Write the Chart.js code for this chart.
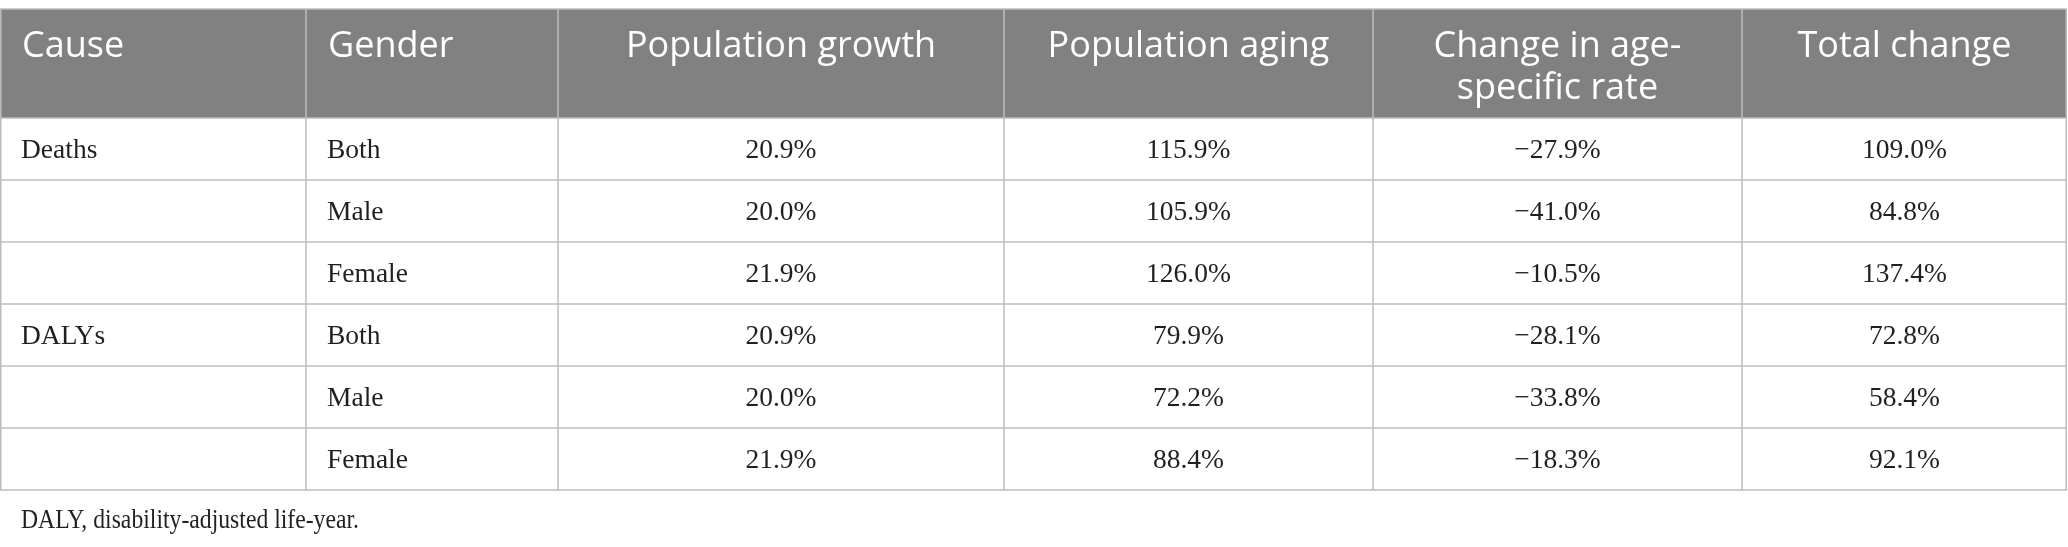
<!DOCTYPE html>
<html>
<head>
<meta charset="utf-8">
<script src="https://cdn.jsdelivr.net/npm/chart.js@4.4.1/dist/chart.umd.min.js"></script>
<style>
  html, body { margin: 0; padding: 0; background: #fff; }
  #wrap { width: 2068px; height: 547px; position: relative; }
</style>
</head>
<body>
<div id="wrap"><canvas id="table"></canvas></div>
<script>
// Table content
const headers = ['Cause', 'Gender', 'Population growth', 'Population aging', ['Change in age-', 'specific rate'], 'Total change'];
const causes = ['Deaths', '', '', 'DALYs', '', ''];
const genders = ['Both', 'Male', 'Female', 'Both', 'Male', 'Female'];
const popGrowth = [20.9, 20.0, 21.9, 20.9, 20.0, 21.9];
const popAging = [115.9, 105.9, 126.0, 79.9, 72.2, 88.4];
const rateChange = [-27.9, -41.0, -10.5, -28.1, -33.8, -18.3];
const totalChange = [109.0, 84.8, 137.4, 72.8, 58.4, 92.1];
const footnote = 'DALY, disability-adjusted life-year.';

// Layout (in scale units, 1 unit = 1 px of the picture)
const colEdges = [0, 306, 558, 1004, 1373, 1742, 2067];
const rowEdges = [9, 118, 180, 242, 304, 366, 428, 490];
const leftAligned = [true, true, false, false, false, false];
const footWidth = 338;

function pct(v) {
  return (v < 0 ? '\u2212' + Math.abs(v).toFixed(1) : v.toFixed(1)) + '%';
}

const rows = genders.map((g, i) => [
  causes[i], g, pct(popGrowth[i]), pct(popAging[i]), pct(rateChange[i]), pct(totalChange[i])
]);

// draws the table cells using the chart's x/y scales
const tablePlugin = {
  id: 'tableCells',
  afterDraw(chart) {
    const c = chart.ctx;
    const x = v => chart.scales.x.getPixelForValue(v);
    const y = v => chart.scales.y.getPixelForValue(v);
    const left = x(colEdges[0]), right = x(colEdges[colEdges.length - 1]);
    const top = y(rowEdges[0]), bottom = y(rowEdges[rowEdges.length - 1]);

    c.save();
    // header background
    c.fillStyle = '#808180';
    c.fillRect(left, top, right - left, y(rowEdges[1]) - top);

    // grid lines
    c.strokeStyle = '#bcbcbc';
    c.lineWidth = 1.5;
    rowEdges.forEach(r => {
      c.beginPath();
      c.moveTo(left, y(r));
      c.lineTo(right, y(r));
      c.stroke();
    });
    colEdges.forEach((e, i) => {
      let px = x(e);
      if (i === 0) px += 0.75;
      if (i === colEdges.length - 1) px -= 0.75;
      c.beginPath();
      c.moveTo(px, top);
      c.lineTo(px, bottom);
      c.stroke();
    });

    // header text
    c.fillStyle = '#ffffff';
    c.font = '36px "Open Sans"';
    c.textBaseline = 'alphabetic';
    headers.forEach((h, i) => {
      const lines = Array.isArray(h) ? h : [h];
      c.textAlign = leftAligned[i] ? 'left' : 'center';
      const tx = leftAligned[i] ? x(colEdges[i]) + 22 : (x(colEdges[i]) + x(colEdges[i + 1])) / 2;
      lines.forEach((ln, k) => c.fillText(ln, tx, top + 48 + k * 42));
    });

    // body text
    c.fillStyle = '#231f20';
    c.font = '27.5px "Liberation Serif"';
    c.textBaseline = 'middle';
    rows.forEach((row, r) => {
      const cy = (y(rowEdges[r + 1]) + y(rowEdges[r + 2])) / 2 + 2;
      row.forEach((txt, i) => {
        c.textAlign = leftAligned[i] ? 'left' : 'center';
        const tx = leftAligned[i] ? x(colEdges[i]) + 21 : (x(colEdges[i]) + x(colEdges[i + 1])) / 2;
        c.fillText(txt, tx, cy);
      });
    });

    // footnote (squeezed a bit, the original face is narrower)
    c.textAlign = 'left';
    const fx = x(colEdges[0]) + 21;
    const sx = Math.min(1, footWidth / c.measureText(footnote).width);
    c.translate(fx, bottom + 31);
    c.scale(sx, 1);
    c.fillText(footnote, 0, 0);
    c.restore();
  }
};

new Chart(document.getElementById('table'), {
  type: 'scatter',
  data: { datasets: [{ data: [], showLine: false }] },
  options: {
    responsive: true,
    maintainAspectRatio: false,
    animation: false,
    layout: { padding: 0 },
    plugins: { legend: { display: false }, tooltip: { enabled: false } },
    scales: {
      x: { type: 'linear', min: 0, max: 2068, display: false },
      y: { type: 'linear', min: 0, max: 547, reverse: true, display: false }
    }
  },
  plugins: [tablePlugin]
});
</script>
</body>
</html>
